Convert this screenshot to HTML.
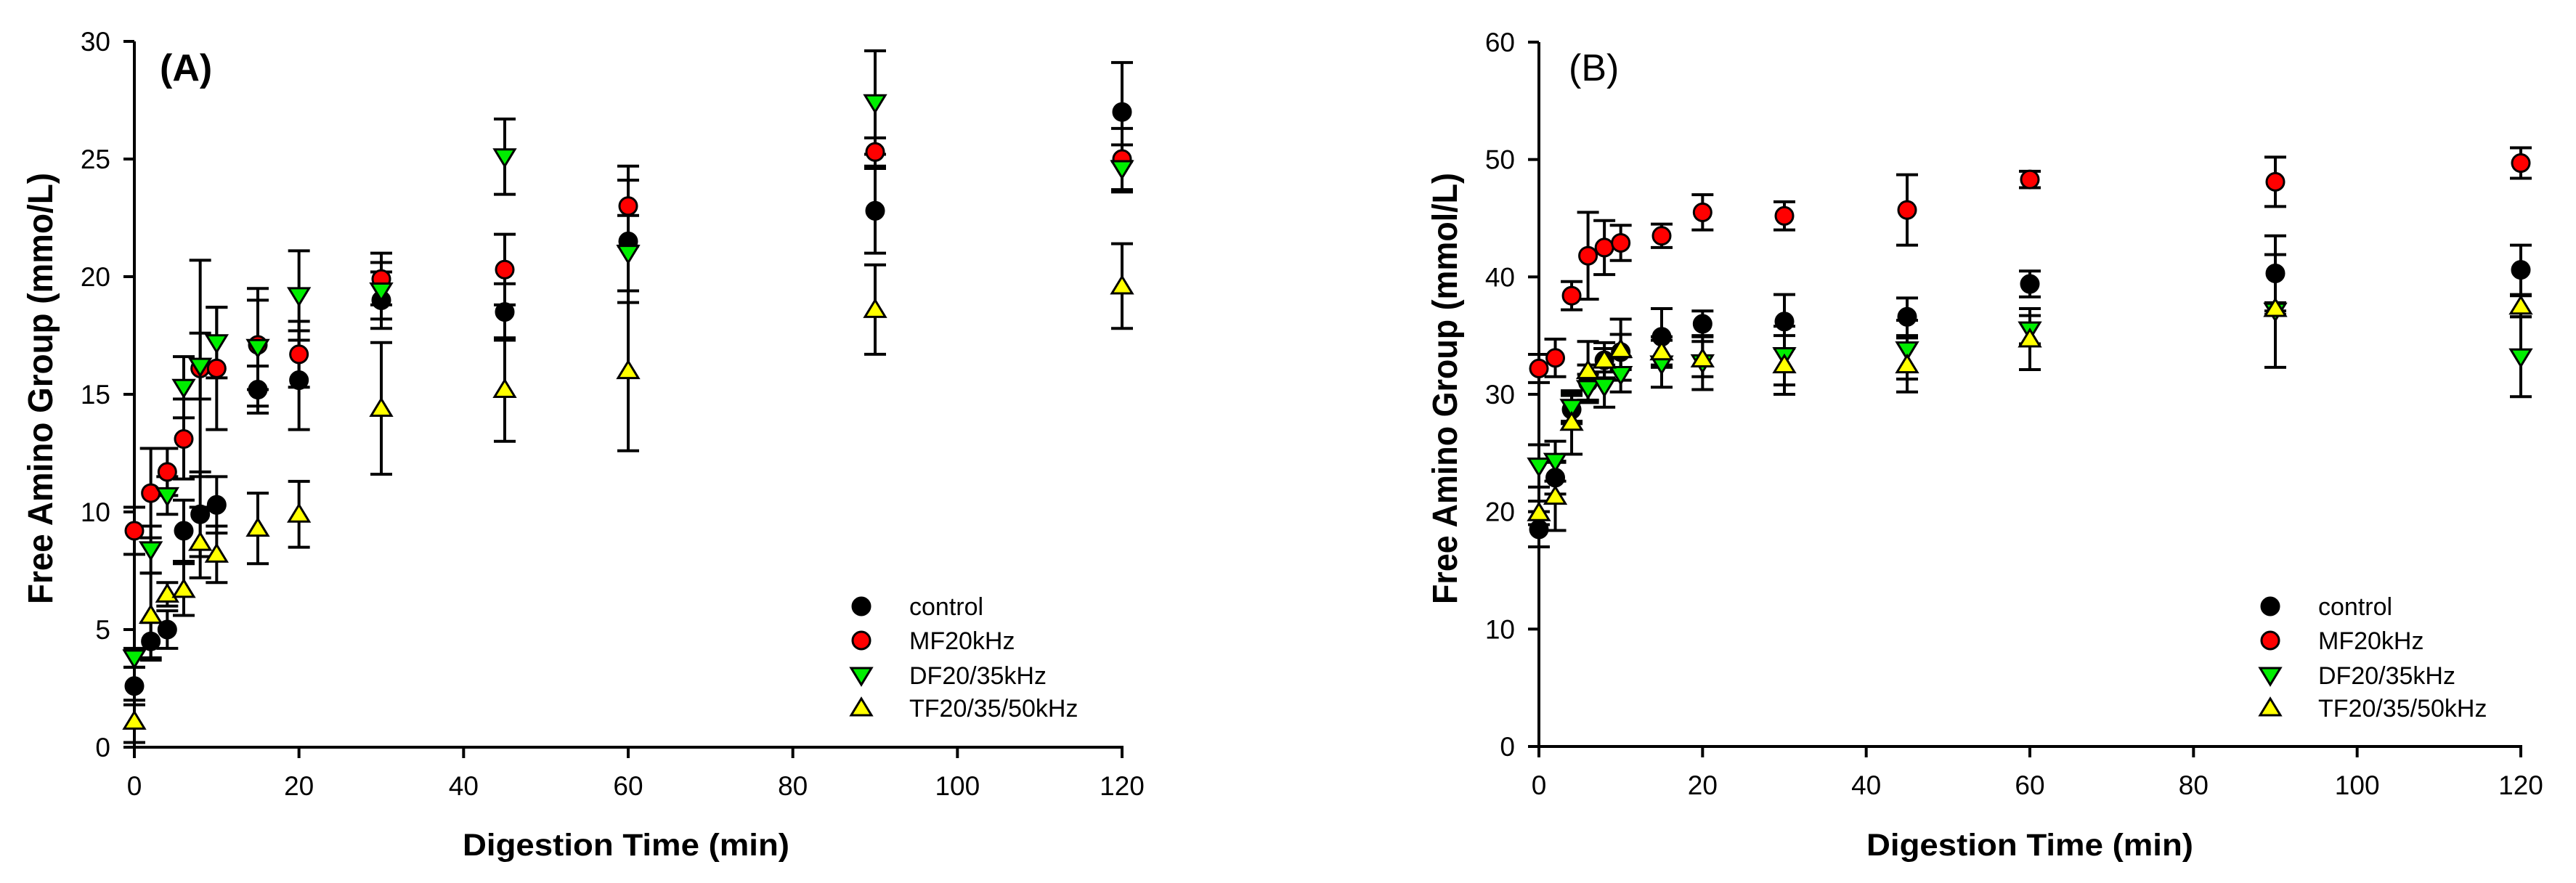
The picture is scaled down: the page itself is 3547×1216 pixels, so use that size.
<!DOCTYPE html>
<html><head><meta charset="utf-8"><style>
html,body{margin:0;padding:0;background:#fff;}
svg{display:block;font-family:"Liberation Sans",Arial,sans-serif;}
</style></head><body>
<svg id="fig" width="3547" height="1216" viewBox="0 0 3547 1216" xmlns="http://www.w3.org/2000/svg"></svg>
<script>
const times = [0,2,4,6,8,10,15,20,30,45,60,90,120];
const seriesNames = ["control","MF20kHz","DF20/35kHz","TF20/35/50kHz"];
// Panel A values
const aControl = [2.6,4.5,5.0,9.2,9.9,10.3,15.2,15.6,19.0,18.5,21.5,22.8,27.0];
const aControlErr = [0.8,0.8,0.8,1.3,1.8,1.2,1.0,2.1,1.2,1.2,2.6,1.8,2.1];
const aMF = [9.2,10.8,11.7,13.1,16.1,16.1,17.1,16.7,19.9,20.3,23.0,25.3,25.0];
const aMFErr = [1.0,1.9,1.0,1.7,4.6,2.6,1.9,1.4,1.1,1.5,1.7,0.6,1.3];
const aDF = [3.8,8.4,10.7,15.3,16.2,17.2,17.0,19.2,19.4,25.1,21.0,27.4,24.6];
const aDFErr = [0.4,1.0,0.8,1.3,1.4,1.5,2.5,1.9,1.2,1.6,1.6,2.2,1.0];
const aTF = [1.1,5.6,6.5,6.7,8.7,8.2,9.3,9.9,14.4,15.2,16.0,18.6,19.6];
const aTFErr = [0.9,1.8,0.5,1.1,1.5,1.2,1.5,1.4,2.8,2.2,3.4,1.9,1.8];
// Panel B values
const bControl = [18.5,22.9,28.7,31.0,32.9,33.6,34.9,36.0,36.2,36.6,39.4,40.3,40.6];
const bControlErr = [1.5,1.4,1.2,1.5,1.0,1.5,2.4,1.1,2.3,1.6,1.1,3.2,2.1];
const bMF = [32.2,33.1,38.4,41.8,42.5,42.9,43.5,45.5,45.2,45.7,48.3,48.1,49.7];
const bMFErr = [1.2,1.6,1.2,3.7,2.3,1.5,1.0,1.5,1.2,3.0,0.7,2.1,1.3];
const bDF = [23.9,24.3,28.9,30.5,30.7,31.7,32.6,32.7,33.3,33.8,35.5,37.1,33.2];
const bDFErr = [1.8,1.7,1.2,1.2,1.8,1.5,2.0,2.3,2.5,2.5,1.2,4.8,3.4];
const bTF = [19.9,21.3,27.6,32.0,32.9,33.8,33.6,33.0,32.5,32.5,34.7,37.3,37.5];
const bTFErr = [1.0,2.9,2.7,2.5,1.5,2.6,1.3,1.5,2.5,2.3,2.6,0.5,0.9];
const xTicks = [0,20,40,60,80,100,120];
const aYTicks = [0,5,10,15,20,25,30];
const bYTicks = [0,10,20,30,40,50,60];

const NS="http://www.w3.org/2000/svg";
const svg=document.getElementById('fig');
function mk(tag,attrs,parent){const e=document.createElementNS(NS,tag);for(const k in attrs)e.setAttribute(k,attrs[k]);(parent||svg).appendChild(e);return e;}
const fills=["#000000","#ff0000","#00ee00","#ffff00"];
const shapes=["circle","circle","down","up"];

function marker(g,shape,fill,cx,cy){
  let e;
  if(shape==="circle"){e=mk('circle',{cx:cx,cy:cy,r:12,fill:fill,stroke:'#000','stroke-width':3},g);}
  else if(shape==="down"){e=mk('polygon',{points:`${cx-14},${cy-10} ${cx+14},${cy-10} ${cx},${cy+13}`,fill:fill,stroke:'#000','stroke-width':3,'stroke-linejoin':'miter'},g);}
  else {e=mk('polygon',{points:`${cx-14},${cy+10} ${cx+14},${cy+10} ${cx},${cy-13}`,fill:fill,stroke:'#000','stroke-width':3},g);}
  return e;
}

function panel(id,x0,x1,y0,y1,ymax,yTicks,vals,errs,label,labelBold,legX){
  const g=mk('g',{});
  
  
  const sx=v=>x0+(x1-x0)*v/120;
  const sy=v=>y0-(y0-y1)*v/ymax;
  // axes
  const ax=mk('line',{x1:x0,y1:y0+2,x2:x0,y2:y1,stroke:'#000','stroke-width':4},g);
  
  const bx=mk('line',{x1:x0-15,y1:y0,x2:x1+2,y2:y0,stroke:'#000','stroke-width':4},g);
  
  yTicks.forEach(t=>{
    const y=sy(t);
    mk('line',{x1:x0-15,y1:y,x2:x0,y2:y,stroke:'#000','stroke-width':4},g);
    const tx=mk('text',{x:x0-33,y:y+13,'font-size':37,'text-anchor':'end',fill:'#000'},g);
    
    tx.textContent=t;
  });
  xTicks.forEach(t=>{
    const x=sx(t);
    mk('line',{x1:x,y1:y0,x2:x,y2:y0+15,stroke:'#000','stroke-width':4},g);
    const tx=mk('text',{x:x,y:y0+66,'font-size':37,'text-anchor':'middle',fill:'#000'},g);
    
    tx.textContent=t;
  });
  // titles
  const xt=mk('text',{x:(x0+x1)/2-(id==='a'?3:0),y:1178,'font-size':43,'font-weight':'bold','text-anchor':'middle',textLength:450,lengthAdjust:'spacingAndGlyphs'},g);
  
  xt.textContent='Digestion Time (min)';
  const yx=x0-113, yc=535;
  const yt=mk('text',{x:yx,y:yc,'font-size':48,'font-weight':'bold','text-anchor':'middle',textLength:594,lengthAdjust:'spacingAndGlyphs',transform:`rotate(-90 ${yx} ${yc})`},g);
  
  yt.textContent=(id==='a')?'Free Amino Group (mmo/L)':'Free Amino Group (mmol/L)';
  const pl=mk('text',{x:x0+(id==='a'?35:41),y:111,'font-size':52,'font-weight':labelBold?'bold':'normal'},g);
  
  pl.textContent=label;
  // error bars
  for(let s=0;s<4;s++){
    const eg=mk('g',{stroke:'#000','stroke-width':4},g);
    
    
    times.forEach((t,i)=>{
      const x=sx(t),yh=sy(vals[s][i]+errs[s][i]),yl=sy(vals[s][i]-errs[s][i]);
      mk('line',{x1:x,y1:yh,x2:x,y2:yl},eg);
      mk('line',{x1:x-15,y1:yh,x2:x+15,y2:yh},eg);
      mk('line',{x1:x-15,y1:yl,x2:x+15,y2:yl},eg);
    });
  }
  for(let s=0;s<4;s++){
    const mg=mk('g',{},g);
    
    
    times.forEach((t,i)=>{
      const m=marker(mg,shapes[s],fills[s],sx(t),sy(vals[s][i]));
      
      
    });
  }
  // legend
  const lg=mk('g',{},g);
  
  
  const rows=[835,882,930,975];
  for(let s=0;s<4;s++){
    const m=marker(lg,shapes[s],fills[s],legX,rows[s]);
    
    
    const t=mk('text',{x:legX+66,y:rows[s]+12,'font-size':34},lg);
    
    
    t.textContent=seriesNames[s];
  }
}
panel('a',185,1545,1029,57,30,aYTicks,[aControl,aMF,aDF,aTF],[aControlErr,aMFErr,aDFErr,aTFErr],'(A)',true,1186);
panel('b',2119,3471,1028,58,60,bYTicks,[bControl,bMF,bDF,bTF],[bControlErr,bMFErr,bDFErr,bTFErr],'(B)',false,3126);
</script>
</body></html>
